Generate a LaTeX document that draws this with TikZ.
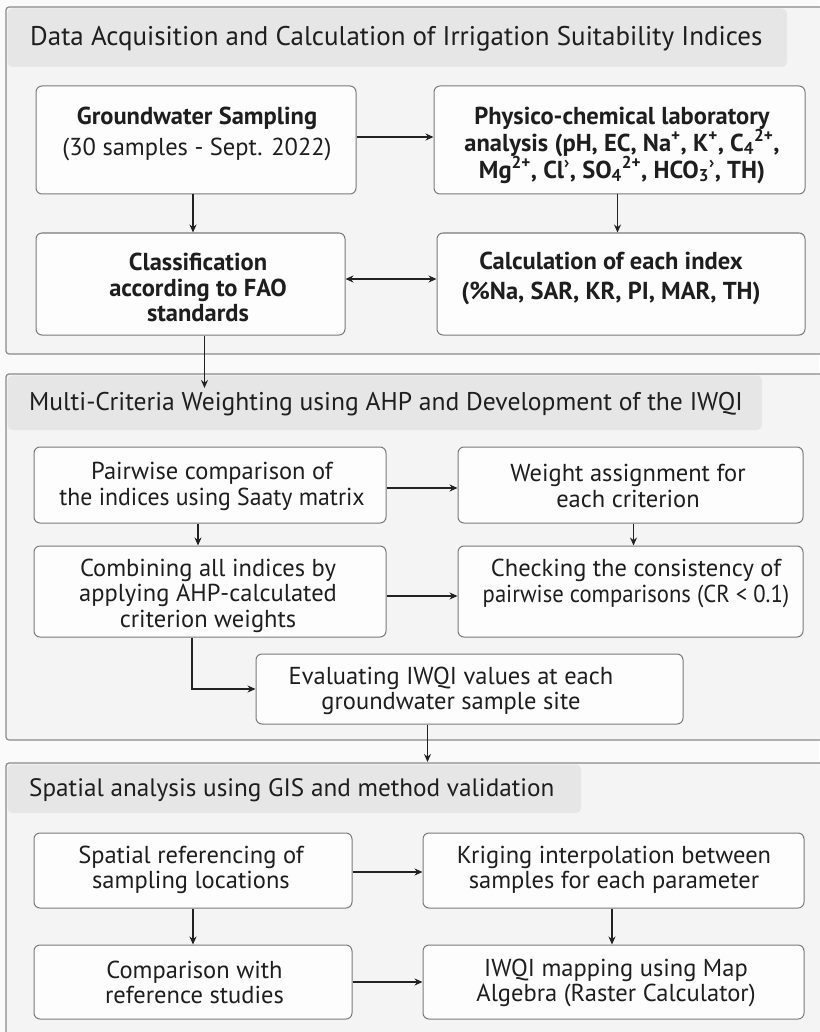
\documentclass[tikz,border=0pt]{standalone}
\usepackage{fontspec}
\setmainfont{PT Sans}
\usetikzlibrary{arrows.meta,calc}
\definecolor{bgc}{HTML}{FAFAFA}
\definecolor{secfill}{HTML}{F4F4F4}
\definecolor{secdraw}{HTML}{8A8A8A}
\definecolor{bandfill}{HTML}{E6E6E6}
\definecolor{boxdraw}{HTML}{7A7A7A}
\definecolor{boxfill}{HTML}{FDFDFD}
\definecolor{arrc}{HTML}{222222}
\definecolor{txt}{HTML}{1E1E1E}
\newcommand{\Sp}[1]{\textsuperscript{#1}}
\newcommand{\Sb}[1]{\textsubscript{#1}}
\tikzset{
  section/.style={fill=secfill,draw=secdraw,line width=1.2pt,rounded corners=3pt},
  band/.style={fill=bandfill,draw=none,rounded corners=5pt},
  sectitle/.style={anchor=west,inner sep=0pt,font=\fontsize{#1}{30}\selectfont,text=txt},
  stepbox/.style={draw=boxdraw,fill=boxfill,line width=1pt,rounded corners=6pt,inner sep=0pt},
  boxtxt/.style={align=center,text=txt,inner sep=0pt},
  rg/.style={font=\fontsize{24.5}{#1}\selectfont},
  bd/.style={font=\bfseries\fontsize{24.5}{#1}\selectfont},
  arr/.style={draw=arrc,line width=1.3pt,-{Stealth[length=8pt,width=7pt]}},
  darr/.style={draw=arrc,line width=1.3pt,{Stealth[length=8pt,width=7pt]}-{Stealth[length=8pt,width=7pt]}}
}
\begin{document}
\begin{tikzpicture}[x=1pt,y=-1pt]
\useasboundingbox (0,0) rectangle (819,1032);
\fill[bgc] (0,0) rectangle (819,1032);
% sections
\draw[section] (6,7) rectangle (840,354);
\fill[band] (7.5,8.5) rectangle (787,67);
\node[sectitle=27] (t1) at (30,39) {Data Acquisition and Calculation of Irrigation Suitability Indices};

\draw[section] (6,374) rectangle (840,740);
\fill[band] (7.5,375.5) rectangle (762,430);
\node[sectitle=25.6] (t2) at (29,404) {Multi-Criteria Weighting using AHP and Development of the IWQI};

\draw[section] (6,763) rectangle (840,1060);
\fill[band] (7.5,764.5) rectangle (581,813);
\node[sectitle=25.2] (t3) at (29,790) {Spatial analysis using GIS and method validation};

% section 1 boxes
\node[stepbox,minimum width=320,minimum height=108] (A) at (196,140) {};
\node[boxtxt,rg=31] (At) at (197,134)
  {\textbf{Groundwater Sampling}\\(30 samples - Sept. 2022)};
\node[stepbox,minimum width=371,minimum height=108] (B) at (619.5,140) {};
\node[boxtxt,bd=27] (Bt) at (622,145)
  {Physico-chemical laboratory\\analysis (pH, EC, Na\Sp{+}, K\Sp{+}, C\Sb{4}\Sp{2+},\\Mg\Sp{2+}, Cl\Sp{›}, SO\Sb{4}\Sp{2+}, HCO\Sb{3}\Sp{›}, TH)};
\node[stepbox,minimum width=309,minimum height=102] (C) at (190.5,284) {};
\node[boxtxt,bd=25.5] (Ct) at (198,287.5)
  {Classification\\according to FAO\\standards};
\node[stepbox,minimum width=368,minimum height=102] (D) at (621,284) {};
\node[boxtxt,bd=30] (Dt) at (611,278)
  {Calculation of each index\\(\%Na, SAR, KR, PI, MAR, TH)};

\draw[arr] ([yshift=3]A.east) -- ([yshift=3]A.east -| B.west);
\draw[arr] ([xshift=-3]A.south) -- ([xshift=-3]A.south |- C.north);
\draw[arr] ([xshift=-2]B.south) -- ([xshift=-2]B.south |- D.north);
\draw[darr] ([yshift=5]C.east) -- ([yshift=5]C.east -| D.west);
\coordinate (c1) at (205,388);
\draw[arr] ([xshift=14]C.south) -- ([xshift=14]C.south |- c1);

% section 2 boxes
\node[stepbox,minimum width=352,minimum height=76] (E) at (210,485) {};
\node[boxtxt,rg=26] (Et) at (212,486)
  {Pairwise comparison of\\\scalebox{0.97}[1]{the indices using Saaty matrix}};
\node[stepbox,minimum width=345,minimum height=76] (F) at (630.5,485) {};
\node[boxtxt,rg=26] (Ft) at (628,486)
  {Weight assignment for\\each criterion};
\node[stepbox,minimum width=352,minimum height=91] (G) at (210,591.5) {};
\node[boxtxt,rg=25.5] (Gt) at (208,595.5)
  {Combining all indices by\\applying AHP-calculated\\criterion weights};
\node[stepbox,minimum width=345,minimum height=91] (H) at (630.5,591.5) {};
\node[boxtxt,rg=26] (Ht) at (636,583)
  {Checking the consistency of\\\scalebox{0.925}[1]{pairwise comparisons (CR < 0.1)}};
\node[stepbox,minimum width=427,minimum height=70] (I) at (469.5,689) {};
\node[boxtxt,rg=25] (It) at (451,690.5)
  {Evaluating IWQI values at each\\groundwater sample site};

\draw[arr] ([yshift=-3]E.east) -- ([yshift=-3]E.east -| F.west);
\draw[arr] ([xshift=-12]E.south) -- ([xshift=-12]E.south |- G.north);
\draw[arr] ([xshift=3]F.south) -- ([xshift=3]F.south |- H.north);
\draw[arr] ([yshift=-4.5]G.east) -- ([yshift=-4.5]G.east -| H.west);
\draw[arr] ([xshift=-18]G.south) |- (I.west);
\coordinate (c2) at (427.5,762);
\draw[arr] ([xshift=-42]I.south) -- ([xshift=-42]I.south |- c2);

% section 3 boxes
\node[stepbox,minimum width=318,minimum height=75] (J) at (193,870.5) {};
\node[boxtxt,rg=24.5] (Jt) at (191,870)
  {Spatial referencing of\\sampling locations};
\node[stepbox,minimum width=381,minimum height=75] (K) at (613.5,870.5) {};
\node[boxtxt,rg=24.5] (Kt) at (614,870)
  {Kriging interpolation between\\samples for each parameter};
\node[stepbox,minimum width=318,minimum height=74] (L) at (193,982) {};
\node[boxtxt,rg=25] (Lt) at (194.5,982.5)
  {Comparison with\\reference studies};
\node[stepbox,minimum width=381,minimum height=74] (M) at (613.5,982) {};
\node[boxtxt,rg=25] (Mt) at (616,982.5)
  {IWQI mapping using Map\\Algebra (Raster Calculator)};

\draw[arr] ([yshift=-1.5]J.east) -- ([yshift=-1.5]J.east -| K.west);
\draw[arr] (J.south) -- (J.south |- L.north);
\draw[arr] ([xshift=-1.5]K.south) -- ([xshift=-1.5]K.south |- M.north);
\draw[arr] (L.east) -- (L.east -| M.west);
\end{tikzpicture}
\end{document}
